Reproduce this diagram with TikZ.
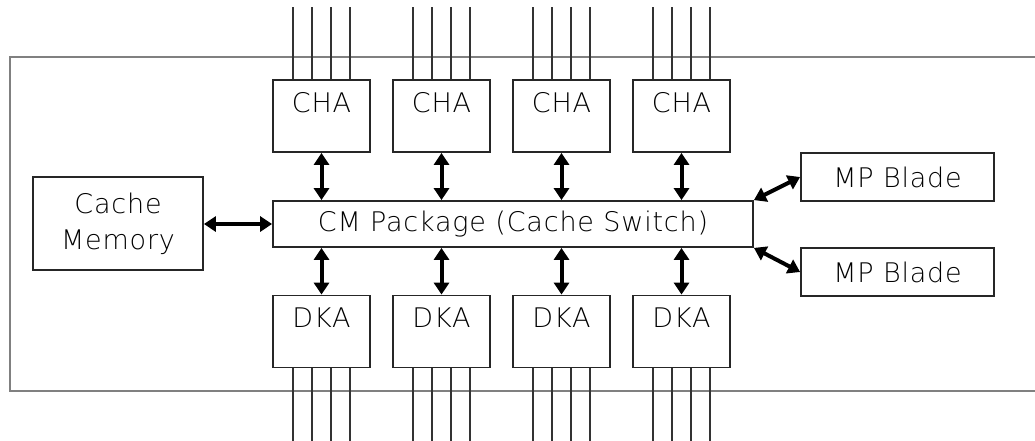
\documentclass[tikz,border=0pt]{standalone}
\usepackage{fontspec}
\setmainfont[LetterSpace=3]{DejaVu Sans ExtraLight}
\usetikzlibrary{arrows.meta}
\begin{document}
\begin{tikzpicture}[x=1pt,y=-1pt,
  box/.style={draw=black!85, line width=1.8pt, fill=white, inner sep=0pt},
  unit/.style={box, minimum width=97pt, minimum height=72pt, text height=19.5pt, text depth=27pt},
  txt/.style={font=\fontsize{27}{36}\selectfont},
  frame/.style={draw=black!50, line width=2.6pt},
  bus/.style={draw=black!80, line width=1.8pt},
  biarrow/.style={line width=4pt, {Triangle[width=15pt,length=12pt]}-{Triangle[width=15pt,length=12pt]}}
]
\useasboundingbox (0,0) rectangle (1035,440);
% outer frame (open on the right)
\draw[frame] (1036,57) -- (10,57) -- (10,391) -- (1036,391);
% units
\foreach \i in {1,...,4}{
  \pgfmathsetmacro{\xx}{321.5+120*(\i-1)}
  \node[unit, txt] (cha\i) at (\xx,116) {CHA};
  \node[unit, txt] (dka\i) at (\xx,331.5) {DKA};
  \foreach \dx in {-28.5,-9.5,9.5,28.5}{
    \draw[bus] ([xshift=\dx pt]cha\i.north) -- ++(0,-72);
    \draw[bus] ([xshift=\dx pt]dka\i.south) -- ++(0,74);
  }
}
\node[box, txt, minimum width=480pt, minimum height=46pt] (cm) at (513,224) {CM Package (Cache Switch)};
\node[box, txt, minimum width=170pt, minimum height=93pt, align=center] (cache) at (118,223.5) {Cache\\Memory};
\node[box, txt, minimum width=193pt, minimum height=48pt] (mp1) at (897.5,177) {MP Blade};
\node[box, txt, minimum width=193pt, minimum height=48pt] (mp2) at (897.5,272) {MP Blade};
% connectors
\foreach \i in {1,...,4}{
  \draw[biarrow] (cha\i.south) -- (cha\i.south |- cm.north);
  \draw[biarrow] (dka\i.north) -- (dka\i.north |- cm.south);
}
\draw[biarrow] (cache.east |- cm.west) -- (cm.west);
\draw[biarrow] (cm.north east) -- (mp1.west);
\draw[biarrow] (cm.south east) -- (mp2.west);
\end{tikzpicture}
\end{document}
